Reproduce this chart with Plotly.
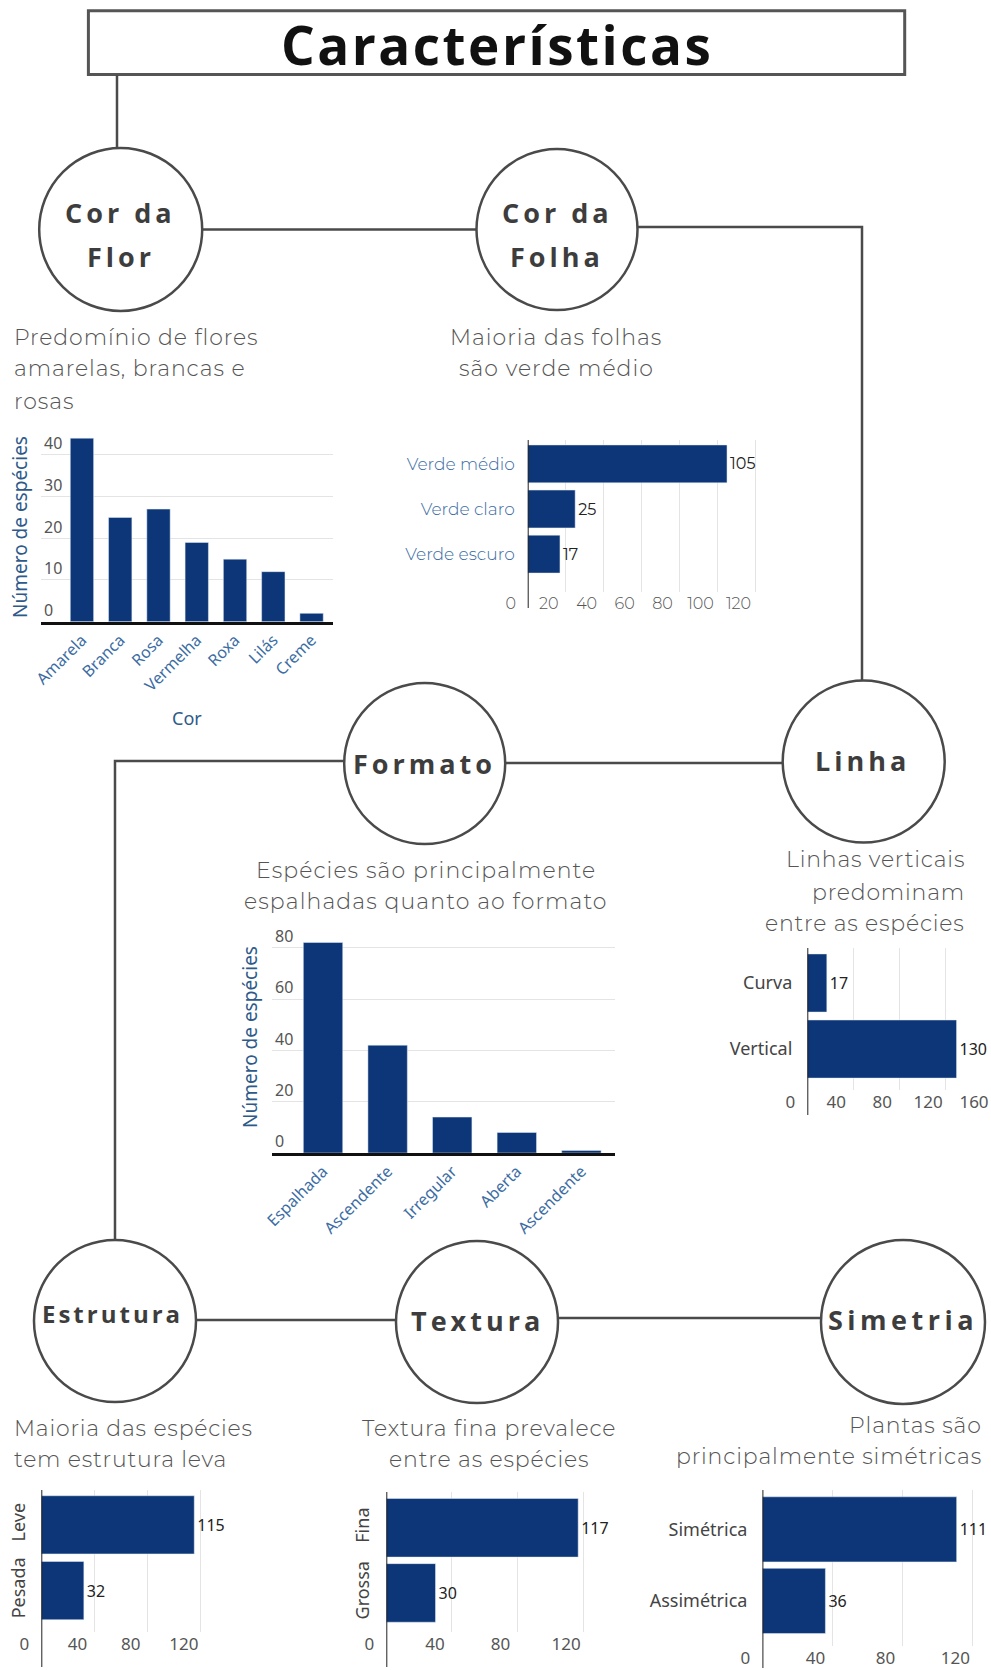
import plotly.graph_objects as go

W, H = 991, 1670

# ---- data -------------------------------------------------------------
flor_cores = ["Amarela", "Branca", "Rosa", "Vermelha", "Roxa", "Lilás", "Creme"]
flor_especies = [44, 25, 27, 19, 15, 12, 2]

folha_cores = ["Verde médio", "Verde claro", "Verde escuro"]
folha_especies = [105, 25, 17]

formato_tipos = ["Espalhada", "Ascendente", "Irregular", "Aberta", "Ascendente"]
formato_especies = [82, 42, 14, 8, 1]

linha_tipos = ["Curva", "Vertical"]
linha_especies = [17, 130]

estrutura_tipos = ["Leve", "Pesada"]
estrutura_especies = [115, 32]

textura_tipos = ["Fina", "Grossa"]
textura_especies = [117, 30]

simetria_tipos = ["Simétrica", "Assimétrica"]
simetria_especies = [111, 36]

# ---- styles -----------------------------------------------------------
NAVY = "#0c3677"
LINE = "#4a4a4a"
GRID = "#e4e4e4"
BLUE_TXT = "#3b6ca3"
GRAY_TXT = "#555555"
SUB_FONT = "Montserrat, Inter, Lato, sans-serif"
CHART_FONT = "Noto Sans, Open Sans, sans-serif"
HEAD_FONT = "Open Sans, sans-serif"


def px(x):
    return x / W


def py(y):
    return 1 - y / H


def xdom(a, b):
    return [a / W, b / W]


def ydom(top, bottom):
    return [1 - bottom / H, 1 - top / H]


fig = go.Figure()

# ---- bar traces -------------------------------------------------------
val_font = dict(family=CHART_FONT, size=16, color="#222")

fig.add_trace(go.Bar(x=list(range(len(flor_cores))), y=flor_especies, width=0.61,
                     marker_color=NAVY, xaxis="x", yaxis="y"))
fig.add_trace(go.Bar(y=folha_cores, x=folha_especies, orientation="h", width=0.84,
                     marker_color=NAVY, text=folha_especies, textposition="outside",
                     textfont=dict(family=SUB_FONT, size=16, color="#222"),
                     cliponaxis=False, xaxis="x2", yaxis="y2"))
fig.add_trace(go.Bar(x=list(range(len(formato_tipos))), y=formato_especies, width=0.61,
                     marker_color=NAVY, xaxis="x3", yaxis="y3"))
fig.add_trace(go.Bar(y=linha_tipos, x=linha_especies, orientation="h", width=0.88,
                     marker_color=NAVY, text=linha_especies, textposition="outside",
                     textfont=val_font, cliponaxis=False, xaxis="x4", yaxis="y4"))
fig.add_trace(go.Bar(y=estrutura_tipos, x=estrutura_especies, orientation="h", width=0.885,
                     marker_color=NAVY, text=estrutura_especies, textposition="outside",
                     textfont=val_font, cliponaxis=False, xaxis="x5", yaxis="y5"))
fig.add_trace(go.Bar(y=textura_tipos, x=textura_especies, orientation="h", width=0.9,
                     marker_color=NAVY, text=textura_especies, textposition="outside",
                     textfont=val_font, cliponaxis=False, xaxis="x6", yaxis="y6"))
fig.add_trace(go.Bar(y=simetria_tipos, x=simetria_especies, orientation="h", width=0.91,
                     marker_color=NAVY, text=simetria_especies, textposition="outside",
                     textfont=val_font, cliponaxis=False, xaxis="x7", yaxis="y7"))

# ---- axes -------------------------------------------------------------
def vbar_axes(xd, yd, n, xr, yr, dtick, labels):
    xa = dict(domain=xd, range=xr, tickvals=list(range(n)), ticktext=labels,
              tickangle=-45, showline=True, linecolor="#111", linewidth=2.5,
              showgrid=False, zeroline=False, ticks="", automargin=False,
              tickfont=dict(family=CHART_FONT, size=16, color=BLUE_TXT), fixedrange=True)
    ya = dict(domain=yd, range=yr, dtick=dtick, ticklabelposition="inside top",
              showgrid=True, gridcolor=GRID, gridwidth=1, zeroline=False, showline=False,
              ticks="", automargin=False,
              tickfont=dict(family=CHART_FONT, size=16, color=GRAY_TXT),
              fixedrange=True)
    return xa, ya


def hbar_axes(xd, yd, xr, yr, dtick, xfont, yfont, yangle=0, standoff=12):
    xa = dict(domain=xd, range=xr, dtick=dtick, showgrid=True, gridcolor=GRID,
              zeroline=False, showline=False, ticks="", ticklabelshift=-17,
              automargin=False, tickfont=xfont, fixedrange=True)
    ya = dict(domain=yd, range=yr, type="category", showgrid=False, zeroline=False,
              showline=False, ticks="", tickangle=yangle, ticklabelstandoff=standoff,
              automargin=False, tickfont=yfont, fixedrange=True)
    return xa, ya


xa1, ya1 = vbar_axes(xdom(41, 333), ydom(421.5, 621.7), len(flor_cores),
                     [-1.07, 6.56], [0, 48], 10, flor_cores)
xa3, ya3 = vbar_axes(xdom(272, 615), ydom(922, 1153), len(formato_tipos),
                     [-0.79, 4.52], [0, 90], 20, formato_tipos)

num_font = dict(family=CHART_FONT, size=17, color=GRAY_TXT)
cat_font = dict(family=CHART_FONT, size=18, color="#444")

xa2, ya2 = hbar_axes(xdom(527.7, 765), ydom(440, 592), [0, 125], [2.84, -0.53], 20,
                     dict(family=SUB_FONT, size=16, color=GRAY_TXT, weight=300),
                     dict(family=SUB_FONT, size=17, color=BLUE_TXT, weight=300))
xa4, ya4 = hbar_axes(xdom(807.3, 991), ydom(948, 1090), [0, 160], [1.62, -0.53], 40,
                     num_font, cat_font, standoff=14)
xa5, ya5 = hbar_axes(xdom(41.3, 214.2), ydom(1490, 1632), [0, 130], [1.63, -0.53], 40,
                     num_font, cat_font, yangle=-90, standoff=12)
xa6, ya6 = hbar_axes(xdom(386.3, 599.5), ydom(1492, 1632), [0, 130], [1.6, -0.55], 40,
                     num_font, cat_font, yangle=-90, standoff=13)
xa7, ya7 = hbar_axes(xdom(762.4, 989.9), ydom(1490, 1646), [0, 130], [1.63, -0.55], 40,
                     num_font, cat_font, standoff=14)

axes = {}
for i, (xa, ya) in enumerate([(xa1, ya1), (xa2, ya2), (xa3, ya3), (xa4, ya4),
                              (xa5, ya5), (xa6, ya6), (xa7, ya7)], start=1):
    s = "" if i == 1 else str(i)
    xa["anchor"] = "y" + s
    ya["anchor"] = "x" + s
    axes["xaxis" + s] = xa
    axes["yaxis" + s] = ya

# ---- diagram: frame, connectors, nodes --------------------------------
shapes = []

shapes.append(dict(type="rect", xref="paper", yref="paper",
                   x0=px(88.4), x1=px(904.7), y0=py(74.6), y1=py(10.7),
                   line=dict(color="#555", width=3), fillcolor="white", layer="below"))


def path(points):
    d = "M " + " L ".join(f"{px(x):.5f},{py(y):.5f}" for x, y in points)
    return dict(type="path", xref="paper", yref="paper", path=d,
                line=dict(color=LINE, width=2.5), layer="below")


shapes += [
    path([(117, 75), (117, 148)]),
    path([(202, 229.5), (476.5, 229.5)]),
    path([(637, 227), (862, 227), (862, 681)]),
    path([(505, 763), (783, 763)]),
    path([(344, 761), (115, 761), (115, 1241)]),
    path([(197, 1320), (396, 1320)]),
    path([(558, 1318), (821, 1318)]),
]


def circle(cx, cy, r):
    return dict(type="circle", xref="paper", yref="paper",
                x0=px(cx - r), x1=px(cx + r), y0=py(cy + r), y1=py(cy - r),
                line=dict(color=LINE, width=2.5), fillcolor="white", layer="below")


nodes = [
    (120.7, 229.5, 81.5),   # Cor da Flor
    (557, 229.5, 80.5),     # Cor da Folha
    (424.7, 763.5, 80.5),   # Formato
    (863.7, 761.5, 81),     # Linha
    (115, 1321, 81),        # Estrutura
    (477, 1322, 81),        # Textura
    (903, 1322, 82),        # Simetria
]
shapes += [circle(*n) for n in nodes]

# vertical value axes of the horizontal bar charts
for ax, top, bottom in [("x2", 440, 608), ("x4", 948, 1115), ("x5", 1490, 1667),
                        ("x6", 1492, 1667), ("x7", 1490, 1668)]:
    shapes.append(dict(type="line", xref=ax, yref="paper", x0=0, x1=0,
                       y0=py(bottom), y1=py(top), line=dict(color="#222", width=2)))

# ---- text -------------------------------------------------------------
ann = []


def text(x, y, s, size, color, family, xanchor="center", angle=0, spacing=None,
         bold=False, weight=None):
    if bold:
        s = f"<b>{s}</b>"
    if spacing:
        s = f"<span style='letter-spacing:{spacing}px'>{s}</span>"
    font = dict(size=size, color=color, family=family)
    if weight:
        font["weight"] = weight
    ann.append(dict(xref="paper", yref="paper", x=px(x), y=py(y), text=s, showarrow=False,
                    xanchor=xanchor, yanchor="middle", textangle=angle, font=font))


text(497, 44, "Características", 53, "#111", HEAD_FONT, spacing=2.5, bold=True)

node_col = "#3d3d3d"
text(120.7, 212, "Cor da", 27, node_col, HEAD_FONT, spacing=4, bold=True)
text(120.7, 256, "Flor", 27, node_col, HEAD_FONT, spacing=4, bold=True)
text(557, 212, "Cor da", 27, node_col, HEAD_FONT, spacing=4, bold=True)
text(557, 256, "Folha", 27, node_col, HEAD_FONT, spacing=4, bold=True)
text(424.7, 763, "Formato", 27, node_col, HEAD_FONT, spacing=4, bold=True)
text(862, 761, "Linha", 27, node_col, HEAD_FONT, spacing=4, bold=True)
text(112, 1313, "Estrutura", 24, node_col, HEAD_FONT, spacing=3, bold=True)
text(477, 1320, "Textura", 27, node_col, HEAD_FONT, spacing=4, bold=True)
text(903, 1319, "Simetria", 27, node_col, HEAD_FONT, spacing=4.5, bold=True)

sub_col = "#555"
LIGHT = 300
for i, s in enumerate(["Predomínio de flores", "amarelas, brancas e", "rosas"]):
    text(12, 337 + 32 * i, s, 22, sub_col, SUB_FONT, xanchor="left", spacing=0.9, weight=LIGHT)
for i, s in enumerate(["Maioria das folhas", "são verde médio"]):
    text(556, 337 + 32 * i, s, 22, sub_col, SUB_FONT, spacing=1, weight=LIGHT)
for i, s in enumerate(["Espécies são principalmente", "espalhadas quanto ao formato"]):
    text(426, 870 + 32 * i, s, 22, sub_col, SUB_FONT, spacing=1.1, weight=LIGHT)
for i, s in enumerate(["Linhas verticais", "predominam", "entre as espécies"]):
    text(967, 860 + 32 * i, s, 22, sub_col, SUB_FONT, xanchor="right", spacing=0.8, weight=LIGHT)
for i, s in enumerate(["Maioria das espécies", "tem estrutura leva"]):
    text(12, 1428 + 31 * i, s, 22, sub_col, SUB_FONT, xanchor="left", spacing=0.8, weight=LIGHT)
for i, s in enumerate(["Textura fina prevalece", "entre as espécies"]):
    text(489, 1428 + 31 * i, s, 22, sub_col, SUB_FONT, spacing=0.85, weight=LIGHT)
for i, s in enumerate(["Plantas são", "principalmente simétricas"]):
    text(984, 1425 + 31 * i, s, 22, sub_col, SUB_FONT, xanchor="right", spacing=0.85, weight=LIGHT)

axis_title_col = "#2e5a8a"
text(20, 527, "Número de espécies", 19, axis_title_col, CHART_FONT, angle=-90)
text(250, 1037, "Número de espécies", 19, axis_title_col, CHART_FONT, angle=-90)
text(187, 718, "Cor", 18, axis_title_col, CHART_FONT)

fig.update_layout(
    width=W, height=H, autosize=False,
    margin=dict(l=0, r=0, t=0, b=0, pad=0),
    paper_bgcolor="white", plot_bgcolor="rgba(0,0,0,0)",
    showlegend=False, barmode="overlay",
    shapes=shapes, annotations=ann,
    **axes,
)

fig.write_html("out.html", config={"displayModeBar": False})
